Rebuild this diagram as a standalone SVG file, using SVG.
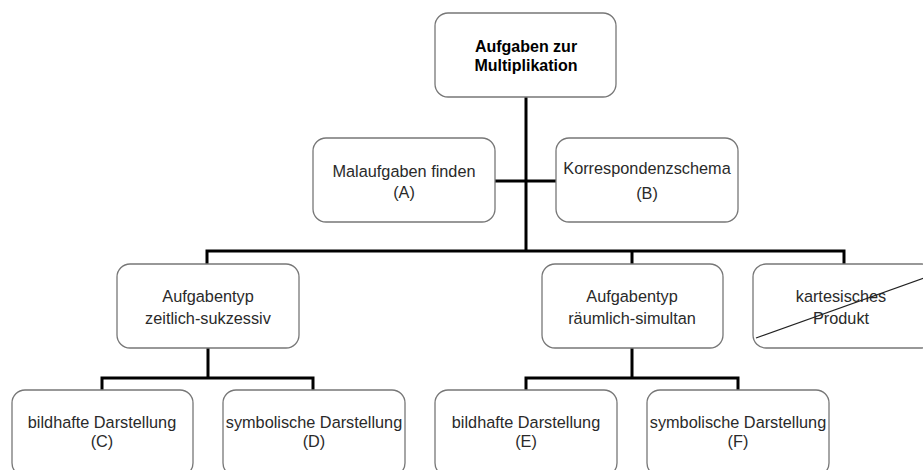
<svg xmlns="http://www.w3.org/2000/svg" width="923" height="470" viewBox="0 0 923 470">
<style>
.box{fill:#fff;stroke:#777;stroke-width:1.3}
.t{font-family:"Liberation Sans",Arial,sans-serif;font-size:16.3px;fill:#2a2a2a;text-anchor:middle}
.b{font-weight:bold;fill:#000;font-size:16px}
.c{fill:none;stroke:#000;stroke-width:3}
</style>
<rect width="923" height="470" fill="#fff"/>
<g id="connectors">
<path class="c" d="M526 97V251M495 181H556M207 265V251H844V265M632 251V265"/>
<path class="c" d="M208 348V378M102 391V378H313V391"/>
<path class="c" d="M632 348V378M526 391V378H738V391"/>
</g>
<g id="n-root"><rect class="box" x="435" y="13" width="181" height="84" rx="13"/>
<text class="t b" x="526" y="52">Aufgaben zur</text><text class="t b" x="526" y="71">Multiplikation</text></g>
<g id="n-a"><rect class="box" x="313" y="138" width="182" height="84" rx="13"/>
<text class="t" x="404" y="177">Malaufgaben finden</text><text class="t" x="404" y="198">(A)</text></g>
<g id="n-b"><rect class="box" x="556" y="138" width="182" height="84" rx="13"/>
<text class="t" x="647" y="174">Korrespondenzschema</text><text class="t" x="647" y="199">(B)</text></g>
<g id="n-zs"><rect class="box" x="117" y="264" width="182" height="84" rx="13"/>
<text class="t" x="208" y="302">Aufgabentyp</text><text class="t" x="208" y="324">zeitlich-sukzessiv</text></g>
<g id="n-rs"><rect class="box" x="542" y="264" width="181" height="84" rx="13"/>
<text class="t" x="632" y="302">Aufgabentyp</text><text class="t" x="632" y="324">räumlich-simultan</text></g>
<g id="n-kp"><rect class="box" x="753" y="264" width="182" height="84" rx="13"/>
<text class="t" x="841" y="302">kartesisches</text><text class="t" x="841" y="324">Produkt</text>
<line x1="756" y1="338" x2="935" y2="274" stroke="#222" stroke-width="1.2"/></g>
<g id="n-c"><rect class="box" x="12" y="390" width="181" height="86" rx="13"/>
<text class="t" x="102" y="428">bildhafte Darstellung</text><text class="t" x="102" y="447">(C)</text></g>
<g id="n-d"><rect class="box" x="223" y="390" width="182" height="86" rx="13"/>
<text class="t" x="314" y="428">symbolische Darstellung</text><text class="t" x="314" y="447">(D)</text></g>
<g id="n-e"><rect class="box" x="435" y="390" width="182" height="86" rx="13"/>
<text class="t" x="526" y="428">bildhafte Darstellung</text><text class="t" x="526" y="447">(E)</text></g>
<g id="n-f"><rect class="box" x="647" y="390" width="182" height="86" rx="13"/>
<text class="t" x="738" y="428">symbolische Darstellung</text><text class="t" x="738" y="447">(F)</text></g>
</svg>
